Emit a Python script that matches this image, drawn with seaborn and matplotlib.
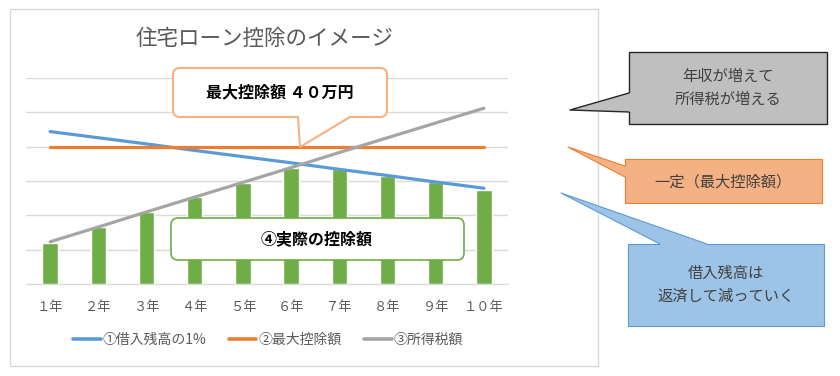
import numpy as np
import pandas as pd
import matplotlib
matplotlib.use('Agg')
import matplotlib.pyplot as plt
import seaborn as sns
from matplotlib.patches import FancyBboxPatch, Rectangle, Polygon
from matplotlib.lines import Line2D

sns.set_style('white')
plt.rcParams['font.family'] = ['Noto Sans CJK JP', 'DejaVu Sans']

# values in 万円 (gridline step = 10)
years = ['１年', '２年', '３年', '４年', '５年', '６年', '７年', '８年', '９年', '１０年']
loan_1pct = [44.4, 42.6, 40.8, 38.9, 37.1, 35.3, 33.4, 31.6, 29.7, 27.9]
max_deduction = [40, 40, 40, 40, 40, 40, 40, 40, 40, 40]
income_tax = [12.3, 16.6, 21.0, 25.3, 29.6, 33.9, 38.3, 42.6, 46.9, 51.2]
actual = [11.8, 16.5, 20.9, 25.3, 29.4, 33.8, 33.5, 31.6, 29.8, 27.4]
series_labels = ['①借入残高の1%', '②最大控除額', '③所得税額']

BLUE, ORANGE, GRAY, GREEN = '#5B9BD5', '#ED7D31', '#A5A5A5', '#70AD47'
TXT = '#595959'

W, H = 840, 376
fig = plt.figure(figsize=(W / 100, H / 100), dpi=100)


def px(x0, y0, x1, y1):
    return [x0 / W, 1 - y1 / H, (x1 - x0) / W, (y1 - y0) / H]


# main chart
ax = fig.add_axes(px(26, 78, 508, 284))
df = pd.DataFrame({'year': years, 'loan': loan_1pct, 'max': max_deduction,
                   'tax': income_tax, 'actual': actual})
df['pos'] = np.arange(len(df))

sns.barplot(data=df, x='year', y='actual', color=GREEN, saturation=1, width=0.32, ax=ax, zorder=2)
for col, c in zip(['loan', 'max', 'tax'], [BLUE, ORANGE, GRAY]):
    sns.lineplot(data=df, x='pos', y=col, color=c, lw=2.3, ax=ax, legend=False,
                 solid_capstyle='round', zorder=3)

ax.set_xlim(-0.5, 9.5)
ax.set_ylim(0, 60)
ax.set_yticks(range(0, 70, 10))
ax.set_yticklabels([])
ax.set_axisbelow(True)
ax.yaxis.grid(True, color='#D9D9D9', lw=1)
ax.set_xlabel('')
ax.set_ylabel('')
ax.tick_params(axis='x', length=0, pad=12, labelsize=9.5, labelcolor=TXT)
ax.tick_params(axis='y', length=0)
for s in ['top', 'right', 'left']:
    ax.spines[s].set_visible(False)
ax.spines['bottom'].set_color('#D9D9D9')

handles = [Line2D([], [], color=c, lw=2.6) for c in [BLUE, ORANGE, GRAY]]
fig.legend(handles, series_labels, loc='center', bbox_to_anchor=(268 / W, 1 - 340 / H),
           ncol=3, frameon=False, fontsize=10, handlelength=2.0, handletextpad=0.15,
           columnspacing=1.6, labelcolor=TXT)

# overlay in pixel coordinates for frame, title and callouts
ov = fig.add_axes([0, 0, 1, 1], zorder=5)
ov.set_xlim(0, W)
ov.set_ylim(H, 0)
ov.axis('off')
ov.patch.set_alpha(0)

ov.add_patch(Rectangle((10, 9), 588, 357, fill=False, ec='#D9D9D9', lw=1))
ov.text(265, 39, '住宅ローン控除のイメージ', ha='center', va='center', fontsize=15.5, color=TXT)


def callout(x0, y0, x1, y1, tip, base, inset, fc, ec, lw=0.8, rounded=False):
    if rounded:
        box = FancyBboxPatch((x0, y0), x1 - x0, y1 - y0, boxstyle='round,pad=0,rounding_size=7',
                             fc=fc, ec=ec, lw=lw)
    else:
        box = Rectangle((x0, y0), x1 - x0, y1 - y0, fc=fc, ec=ec, lw=lw)
    ov.add_patch(box)
    if tip is not None:
        b0, b1 = base
        pts = [b0, tip, b1, (b1[0] + inset[0], b1[1] + inset[1]), (b0[0] + inset[0], b0[1] + inset[1])]
        ov.add_patch(Polygon(pts, closed=True, fc=fc, ec='none'))
        ov.plot([b0[0], tip[0], b1[0]], [b0[1], tip[1], b1[1]], color=ec, lw=lw)


callout(173, 68, 387, 117, (300, 147), [(298, 117), (350, 117)], (0, -2),
        'white', '#F4B183', lw=1.5, rounded=True)
ov.text(280, 92, '最大控除額 ４０万円', ha='center', va='center', fontsize=11.5,
        fontweight='bold', color='black')

callout(171, 218, 464, 260, None, None, None, 'white', GREEN, lw=1.2, rounded=True)
ov.text(317, 239, '④実際の控除額', ha='center', va='center', fontsize=11.5,
        fontweight='bold', color='black')

callout(629, 52, 827, 124, (570, 110), [(629, 93), (629, 112)], (2, 0),
        '#BFBFBF', '#262626', lw=1.0)
ov.text(728, 88, '年収が増えて\n所得税が増える', ha='center', va='center', fontsize=11,
        color='#404040', linespacing=1.4)

callout(625, 159, 822, 203, (568, 147), [(625, 166), (625, 177)], (2, 0),
        '#F4B183', ORANGE, lw=0.8)
ov.text(723, 182, '一定（最大控除額）', ha='center', va='center', fontsize=11, color='#404040')

callout(628, 244, 824, 326, (561, 193), [(660, 244), (707, 244)], (0, 2),
        '#9DC3E6', BLUE, lw=0.8)
ov.text(726, 285, '借入残高は\n返済して減っていく', ha='center', va='center', fontsize=11,
        color='#404040', linespacing=1.4)

fig.savefig('out.png', dpi=100)
